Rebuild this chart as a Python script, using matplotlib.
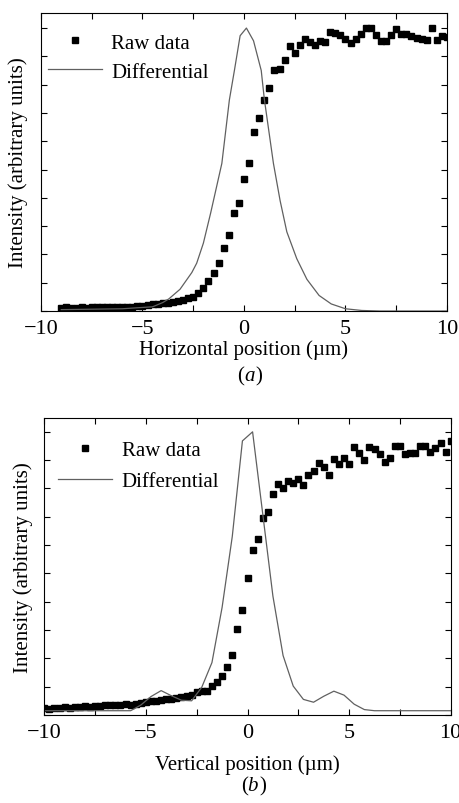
import numpy as np
import matplotlib
matplotlib.use("Agg")
import matplotlib.pyplot as plt
from matplotlib.ticker import MultipleLocator

plt.rcParams['font.family'] = ['Liberation Serif', 'DejaVu Serif']

# ---- panel (a): horizontal scan ----
raw_a_x = np.arange(-9.0, 10.01, 0.25)
raw_a_y = [0.12, 0.13, 0.11, 0.12, 0.13, 0.12, 0.13, 0.14, 0.13, 0.14,
           0.13, 0.14, 0.15, 0.15, 0.16, 0.17, 0.19, 0.22, 0.24, 0.26,
           0.28, 0.30, 0.33, 0.36, 0.40, 0.45,
           0.51, 0.65, 0.81, 1.05, 1.36, 1.69, 2.23, 2.70, 3.47, 3.82,
           4.67, 5.22, 6.34, 6.82, 7.46, 7.87, 8.51, 8.57, 8.88, 9.38,
           9.12, 9.40, 9.63, 9.52, 9.41, 9.53, 9.50, 9.85, 9.81, 9.76,
           9.63, 9.48, 9.63, 9.78, 10.02, 10.0, 9.75, 9.53, 9.53, 9.76,
           9.96, 9.80, 9.78, 9.73, 9.65, 9.61, 9.58, 9.99, 9.59, 9.71, 9.67]

diff_a_x = [-9.0, -6.0, -4.5, -4.0, -3.7, -3.15, -2.57, -2.33, -2.0, -1.64,
            -1.09, -0.72, -0.47, -0.19, 0.12, 0.47, 0.85, 1.0, 1.45, 1.78,
            2.11, 2.6, 3.1, 3.7, 4.3, 5.0, 5.8, 6.7, 10.0]
diff_a_y = [0.05, 0.08, 0.15, 0.3, 0.43, 0.77, 1.36, 1.69, 2.4, 3.47,
            5.22, 7.46, 8.51, 9.73, 10.0, 9.55, 8.5, 7.5, 5.22, 3.9,
            2.8, 1.85, 1.12, 0.55, 0.25, 0.08, 0.02, 0.0, 0.0]

# ---- panel (b): vertical scan ----
raw_b_x = np.arange(-10.0, 10.01, 0.25)
raw_b_y = [0.25, 0.22, 0.26, 0.25, 0.27, 0.26, 0.28, 0.27, 0.30, 0.29,
           0.32, 0.33, 0.35, 0.34, 0.36, 0.35, 0.37, 0.36, 0.40, 0.42,
           0.45, 0.48, 0.50, 0.53, 0.55, 0.58, 0.60, 0.62, 0.66, 0.72,
           0.80, 0.86, 0.86, 1.04, 1.16, 1.39, 1.69, 2.12, 3.02, 3.69,
           4.85, 5.81, 6.20, 6.96, 7.17, 7.82, 8.17, 8.02, 8.25, 8.20,
           8.35, 8.11, 8.47, 8.62, 8.90, 8.76, 8.49, 9.03, 8.86, 9.06,
           8.86, 9.47, 9.26, 9.00, 9.47, 9.39, 9.23, 8.94, 9.09, 9.50,
           9.50, 9.23, 9.27, 9.27, 9.50, 9.50, 9.29, 9.43, 9.61, 9.29, 9.67]

diff_b_x = [-10.0, -5.75, -5.25, -4.75, -4.25, -3.75, -3.25, -2.75, -2.25,
            -1.75, -1.25, -0.75, -0.25, 0.25, 0.75, 1.25, 1.75, 2.25, 2.75,
            3.25, 3.75, 4.25, 4.75, 5.25, 5.75, 6.25, 10.0]
diff_b_y = [0.15, 0.15, 0.35, 0.65, 0.86, 0.68, 0.52, 0.5, 0.98,
            1.85, 3.8, 6.3, 9.68, 10.0, 7.1, 4.2, 2.1, 1.02, 0.55,
            0.45, 0.66, 0.84, 0.7, 0.38, 0.19, 0.15, 0.15]

xlabels = ['Horizontal position (\u00b5m)', 'Vertical position (\u00b5m)']
panel_tags = ['(a)', '(b)']
xtick_vals = [-10, -5, 0, 5, 10]
xtick_text = ['\u221210', '\u22125', '0', '5', '10']


def draw_panel(ax, rx, ry, dx, dy, xlabel, tag, ytop, leg_anchor, leg_space,
               xlab_y, tag_y, ylab_x):
    ax.plot(rx, ry, linestyle='none', marker='s', ms=5.0, color='black', label='Raw data')
    ax.plot(dx, dy, color='#606060', lw=0.9, label='Differential')
    ax.set_xlim(-10, 10)
    ax.set_ylim(0, ytop)
    ax.xaxis.set_minor_locator(MultipleLocator(2.5))
    ax.yaxis.set_major_locator(MultipleLocator(1))
    ax.tick_params(which='both', direction='in', top=True, right=True, length=4, width=0.8)
    ax.tick_params(axis='x', labelsize=16, pad=6)
    ax.set_yticklabels([])
    ax.set_xticks(xtick_vals)
    ax.set_xticklabels(xtick_text)
    for s in ax.spines.values():
        s.set_linewidth(0.8)
    ax.set_xlabel(xlabel, fontsize=15)
    ax.xaxis.label.set_va('center')
    ax.xaxis.set_label_coords(0.5, xlab_y)
    ax.set_ylabel('Intensity (arbitrary units)', fontsize=15)
    ax.yaxis.label.set_va('center')
    ax.yaxis.set_label_coords(ylab_x, 0.5)
    # panel tag with italic letter
    ax.text(0.5, tag_y, tag[0], transform=ax.transAxes, fontsize=15, ha='right', va='center')
    ax.text(0.5, tag_y, tag[1], transform=ax.transAxes, fontsize=15, ha='left', va='center', style='italic')
    ax.text(0.5 + 0.028, tag_y, tag[2], transform=ax.transAxes, fontsize=15, ha='left', va='center')
    ax.legend(loc='upper left', bbox_to_anchor=leg_anchor, frameon=False, fontsize=15,
              numpoints=1, handlelength=2.6, handletextpad=0.45, borderpad=0,
              borderaxespad=0, labelspacing=leg_space)


fig = plt.figure(figsize=(4.6, 8.04), dpi=100)
ax1 = fig.add_axes([0.0891, 0.6119, 0.8826, 0.3706])
ax2 = fig.add_axes([0.0963, 0.1095, 0.8835, 0.3694])

draw_panel(ax1, raw_a_x, raw_a_y, diff_a_x, diff_a_y, xlabels[0], panel_tags[0],
           10.53, (0.017, 0.933), 0.45, -0.128, -0.218, -0.056)
draw_panel(ax2, raw_b_x, raw_b_y, diff_b_x, diff_b_y, xlabels[1], panel_tags[1],
           10.49, (0.034, 0.924), 0.55, -0.165, -0.239, -0.053)

fig.savefig('out.png', dpi=100)
